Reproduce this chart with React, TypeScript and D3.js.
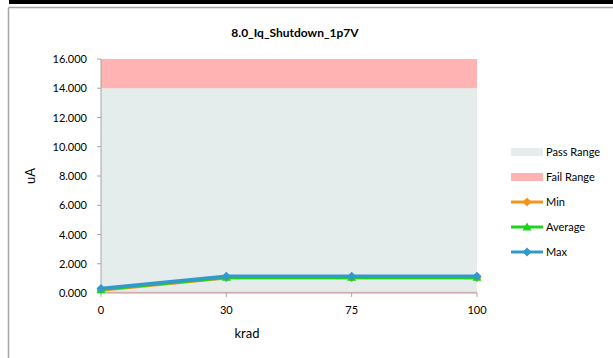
import React from "react";
import * as d3 from "d3";

const categories = ["0", "30", "75", "100"];
const minValues = [0.2, 1.05, 1.05, 1.05];
const avgValues = [0.25, 1.08, 1.08, 1.08];
const maxValues = [0.3, 1.15, 1.15, 1.15];
const passRange = [0.1, 14];
const failLow = [0, 0.1];
const failHigh = [14, 16];
const yTicks = [0, 2, 4, 6, 8, 10, 12, 14, 16];
const legendItems = ["Pass Range", "Fail Range", "Min", "Average", "Max"];

const W = 613;
const H = 358;
const FONT = "Lato, 'Open Sans', sans-serif";

export default function App() {
  const left = 101, right = 477, top = 59, bottom = 293;
  const x = d3.scalePoint<string>().domain(categories).range([left, right]);
  const y = d3.scaleLinear().domain([0, 16]).range([bottom, top]);
  const line = d3.line<number>().x((_, i) => x(categories[i])!).y((d) => y(d));

  const series = [
    { name: "Min", values: minValues, color: "#f7941d", marker: "diamond" },
    { name: "Average", values: avgValues, color: "#1bd41b", marker: "triangle" },
    { name: "Max", values: maxValues, color: "#3399cc", marker: "diamond" },
  ];

  const marker = (type: string, cx: number, cy: number, color: string, key: string) => {
    if (type === "triangle") {
      const s = 4.5;
      return <path key={key} d={`M${cx},${cy - s}L${cx + s},${cy + s * 0.8}L${cx - s},${cy + s * 0.8}Z`} fill={color} />;
    }
    const s = 4.5;
    return <path key={key} d={`M${cx},${cy - s}L${cx + s},${cy}L${cx},${cy + s}L${cx - s},${cy}Z`} fill={color} />;
  };

  const legendY = [152, 177, 202, 227, 252];

  return (
    <div style={{ position: "fixed", left: 0, top: 0 }}>
      <svg width={W} height={H} style={{ display: "block", background: "#fff" }}>
        <rect x={9} y={0} width={W - 9} height={4} fill="#000" />
        <line x1={8.5} y1={7.5} x2={W} y2={7.5} stroke="#a6a6a6" strokeWidth={1.5} />
        <line x1={8.5} y1={7.5} x2={8.5} y2={H} stroke="#a6a6a6" strokeWidth={1.5} />

        <text x={295} y={37} textAnchor="middle" fontFamily={FONT} fontSize={12} fontWeight="bold" fill="#000">
          8.0_Iq_Shutdown_1p7V
        </text>

        {/* ranges */}
        <rect x={left} y={y(passRange[1])} width={right - left} height={y(passRange[0]) - y(passRange[1])} fill="#e5ecec" />
        <rect x={left} y={y(failHigh[1])} width={right - left} height={y(failHigh[0]) - y(failHigh[1])} fill="#ffb3b3" />
        <rect x={left} y={y(failLow[1])} width={right - left} height={y(failLow[0]) - y(failLow[1])} fill="#ffb3b3" />

        {/* axes */}
        <line x1={left} y1={top} x2={left} y2={bottom} stroke="#a6a6a6" strokeWidth={1} />
        <line x1={left} y1={bottom} x2={right} y2={bottom} stroke="#a6a6a6" strokeWidth={1} />
        {yTicks.map((t) => (
          <g key={t}>
            <line x1={left - 4} x2={left} y1={y(t)} y2={y(t)} stroke="#a6a6a6" />
            <text x={left - 14} y={y(t) + 4} textAnchor="end" fontFamily={FONT} fontSize={11} fill="#000">
              {t.toFixed(3)}
            </text>
          </g>
        ))}
        {categories.map((c) => (
          <g key={c}>
            <line x1={x(c)!} x2={x(c)!} y1={bottom} y2={bottom + 4} stroke="#a6a6a6" />
            <text x={x(c)!} y={314} textAnchor="middle" fontFamily={FONT} fontSize={11} fill="#000">
              {c}
            </text>
          </g>
        ))}
        <text x={247} y={338} textAnchor="middle" fontFamily={FONT} fontSize={13} fill="#000">
          krad
        </text>
        <text transform={`translate(35,176) rotate(-90)`} textAnchor="middle" fontFamily={FONT} fontSize={13} fill="#000">
          uA
        </text>

        {/* series */}
        {series.map((s) => (
          <g key={s.name}>
            <path d={line(s.values)!} fill="none" stroke={s.color} strokeWidth={3.5} />
            {s.values.map((v, i) => marker(s.marker, x(categories[i])!, y(v), s.color, s.name + i))}
          </g>
        ))}

        {/* legend */}
        <rect x={511} y={legendY[0] - 4} width={32} height={8} fill="#e5ecec" />
        <rect x={511} y={legendY[1] - 4} width={32} height={8} fill="#ffb3b3" />
        {series.map((s, i) => (
          <g key={s.name}>
            <line x1={511} x2={543} y1={legendY[i + 2]} y2={legendY[i + 2]} stroke={s.color} strokeWidth={3} />
            {marker(s.marker, 527, legendY[i + 2], s.color, "lg" + i)}
          </g>
        ))}
        {legendItems.map((name, i) => (
          <text key={name} x={546} y={legendY[i] + 4} fontFamily={FONT} fontSize={11} fill="#000">
            {name}
          </text>
        ))}
      </svg>
    </div>
  );
}
